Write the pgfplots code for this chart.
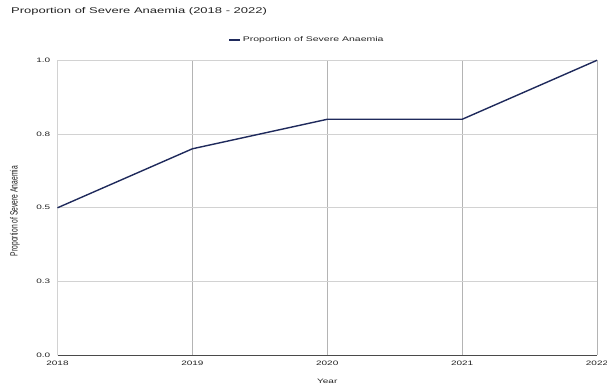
\documentclass[border=0pt]{standalone}
\usepackage{fontspec}
\setmainfont{Liberation Sans}
\usepackage{graphicx}
\usepackage{pgfplots}
\pgfplotsset{compat=1.18}
\definecolor{seriesnavy}{HTML}{1F2A5C}
\definecolor{gridv}{HTML}{B4B4B4}
\definecolor{gridh}{HTML}{D2D2D2}
\definecolor{baseline}{HTML}{4A4A4A}
\definecolor{txt}{HTML}{222222}
% flattened glyphs
\newcommand{\sq}[1]{\scalebox{1}[0.64]{#1}}

\begin{document}
\begin{tikzpicture}
\path[use as bounding box] (-57.5pt,-31.7pt) rectangle (549.5pt,355.3pt);
\begin{axis}[
  at={(0pt,0pt)}, anchor=south west,
  scale only axis, width=539.5pt, height=295pt,
  xmin=2018, xmax=2022, ymin=0, ymax=1,
  clip=false,
  xtick={2018,2019,2020,2021,2022},
  xticklabels={\sq{2018},\sq{2019},\sq{2020},\sq{2021},\sq{2022}},
  ytick={0,0.25,0.5,0.75,1},
  yticklabels={\sq{0.0},\sq{0.3},\sq{0.5},\sq{0.8},\sq{1.0}},
  major tick length=0pt,
  tick label style={font=\fontsize{10}{12}\selectfont, text=txt},
  yticklabel style={anchor=east, inner sep=0pt, xshift=-7pt},
  xticklabel style={anchor=center, inner sep=0pt, yshift=-8pt},
  grid=major,
  x grid style={draw=gridv, line width=0.8pt},
  y grid style={draw=gridh, line width=0.8pt},
  axis x line*=bottom, axis y line*=left,
  x axis line style={draw=baseline, line width=0.9pt, -},
  y axis line style={draw=gridh, line width=1pt, -},
  xlabel={\sq{Year}},
  xlabel style={at={(axis description cs:0.5,0)}, anchor=center, inner sep=0pt, yshift=-26.4pt, font=\fontsize{10}{12}\selectfont, text=txt},
  ylabel={\scalebox{0.64}[1]{Proportion of Severe Anaemia}},
  ylabel style={at={(axis description cs:-0.0788,0.489)}, anchor=center, inner sep=0pt, font=\fontsize{10.5}{12}\selectfont, text=txt},
  title={\sq{Proportion of Severe Anaemia (2018 - 2022)}},
  title style={at={(axis description cs:-0.0862,1.1366)}, anchor=base west, inner sep=0pt, font=\fontsize{13}{15}\selectfont, text=txt},
  legend style={at={(axis description cs:0.4625,1.069)}, anchor=center, draw=none, fill=none, font=\fontsize{10.5}{12}\selectfont, text=txt, inner sep=0pt},
  legend image code/.code={\draw[#1] (0pt,0pt) -- (11pt,0pt);},
]
\addplot[seriesnavy, line width=1.4pt] coordinates {
  (2018,0.5) (2019,0.7) (2020,0.8) (2021,0.8) (2022,1.0)
};
\addlegendentry{\sq{Proportion of Severe Anaemia}}
\end{axis}
\end{tikzpicture}
\end{document}
